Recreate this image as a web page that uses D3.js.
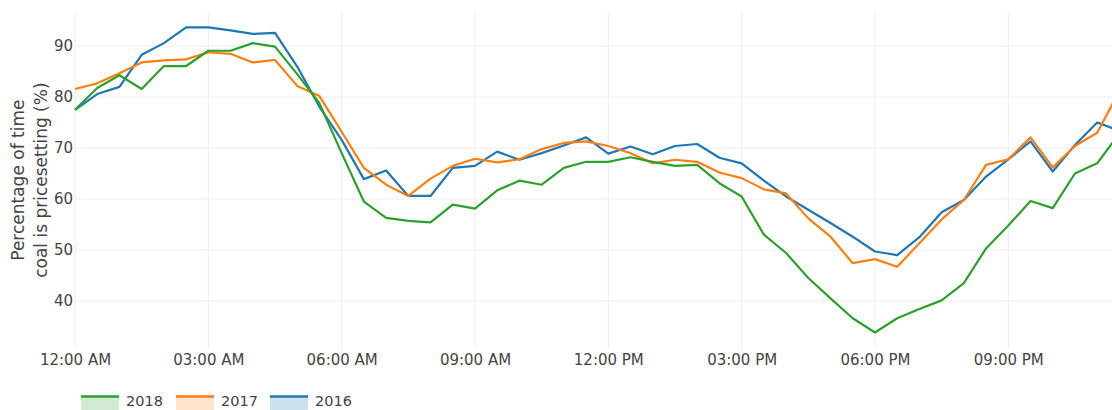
<!DOCTYPE html>
<html>
<head>
<meta charset="utf-8">
<script src="https://cdn.jsdelivr.net/npm/d3@7"></script>
<style>
  body { margin: 0; background: #fff; overflow: hidden; }
  text { font-family: "DejaVu Sans", Verdana, sans-serif; fill: #444; }
</style>
</head>
<body>
<script>
// half-hourly values, 00:00 .. 23:30
const pct2018 = [77.5, 81.8, 84.3, 81.6, 86.1, 86.1, 89.1, 89.1, 90.6, 89.9, 84.5, 78.8,
  69.0, 59.5, 56.3, 55.7, 55.4, 58.9, 58.1, 61.7, 63.6, 62.8, 66.1, 67.3,
  67.3, 68.2, 67.3, 66.5, 66.7, 63.1, 60.5, 53.0, 49.4, 44.5, 40.5, 36.6,
  33.8, 36.6, 38.4, 40.1, 43.5, 50.3, 54.8, 59.6, 58.2, 65.0, 67.0, 72.9];
const pct2017 = [81.6, 82.7, 84.7, 86.8, 87.2, 87.4, 88.8, 88.5, 86.8, 87.3, 82.2, 80.2,
  73.2, 66.1, 62.8, 60.6, 64.0, 66.5, 67.9, 67.2, 67.8, 69.8, 71.0, 71.3,
  70.4, 69.0, 67.0, 67.7, 67.3, 65.2, 64.1, 61.9, 61.1, 56.2, 52.6, 47.4,
  48.2, 46.7, 51.3, 56.0, 59.8, 66.7, 67.8, 72.1, 66.2, 70.4, 73.0, 81.2];
const pct2016 = [77.5, 80.6, 82.0, 88.3, 90.6, 93.7, 93.7, 93.1, 92.4, 92.6, 86.0, 78.1,
  71.6, 63.9, 65.6, 60.6, 60.6, 66.1, 66.5, 69.3, 67.7, 69.0, 70.5, 72.1,
  68.9, 70.3, 68.8, 70.4, 70.8, 68.1, 67.0, 63.6, 60.5, 57.9, 55.3, 52.6,
  49.7, 49.0, 52.5, 57.4, 59.8, 64.4, 67.8, 71.3, 65.4, 70.6, 75.0, 73.4];

const years = ["2018", "2017", "2016"];
const colors = { "2018": "#2ca02c", "2017": "#ff7f0e", "2016": "#1f77b4" };
const yTicks = [40, 50, 60, 70, 80, 90];

(function () {
    const day = new Date(2018, 0, 1);
    const times = d3.timeMinutes(day, d3.timeMinute.offset(day, 24 * 60), 30);
    const seriesData = { "2018": pct2018, "2017": pct2017, "2016": pct2016 };

    const W = 1112, H = 410;
    const plotLeft = 75, plotRight = 1119.4, plotTop = 11, plotBottom = 349.3;

    const svg = d3.select("body").append("svg")
        .attr("width", W)
        .attr("height", H);

    const x = d3.scaleTime()
        .domain([times[0], times[times.length - 1]])
        .range([plotLeft, plotRight]);

    const y = d3.scaleLinear()
        .domain([30.5, 96.9])
        .range([plotBottom, plotTop]);

    // grid
    const xTickVals = d3.timeHours(day, d3.timeHour.offset(day, 24), 3);
    svg.append("g")
        .selectAll("line")
        .data(xTickVals)
        .join("line")
        .attr("x1", d => x(d)).attr("x2", d => x(d))
        .attr("y1", plotTop).attr("y2", plotBottom)
        .attr("stroke", "#eee").attr("stroke-width", 1);

    svg.append("g")
        .selectAll("line")
        .data(yTicks)
        .join("line")
        .attr("x1", plotLeft).attr("x2", plotRight)
        .attr("y1", d => y(d)).attr("y2", d => y(d))
        .attr("stroke", "#eee").attr("stroke-width", 1);

    // axes (labels only)
    const xAxis = svg.append("g")
        .attr("transform", `translate(0,${plotBottom})`)
        .call(d3.axisBottom(x).tickValues(xTickVals).tickFormat(d3.timeFormat("%I:%M %p")).tickSize(0).tickPadding(5));
    xAxis.select(".domain").remove();
    xAxis.selectAll("text").attr("font-size", 15);
    xAxis.attr("font-family", null);

    const yAxis = svg.append("g")
        .attr("transform", `translate(${plotLeft},0)`)
        .call(d3.axisLeft(y).tickValues(yTicks).tickSize(0).tickPadding(2));
    yAxis.select(".domain").remove();
    yAxis.selectAll("text").attr("font-size", 15);
    yAxis.attr("font-family", null);

    // y title
    const yTitle = svg.append("text")
        .attr("transform", `translate(0,${(plotTop + plotBottom) / 2}) rotate(-90)`)
        .attr("text-anchor", "middle")
        .attr("font-size", 17);
    yTitle.append("tspan").attr("x", 0).attr("y", 24).text("Percentage of time");
    yTitle.append("tspan").attr("x", 0).attr("y", 47).text("coal is pricesetting (%)");

    // lines
    const line = d3.line()
        .x((d, i) => x(times[i]))
        .y(d => y(d));

    svg.append("clipPath").attr("id", "plot-clip")
        .append("rect").attr("x", plotLeft - 5).attr("y", 0)
        .attr("width", plotRight - plotLeft + 10).attr("height", plotBottom);

    const lineGroup = svg.append("g").attr("clip-path", "url(#plot-clip)");
    ["2016", "2017", "2018"].forEach(yr => {
        lineGroup.append("path")
            .datum(seriesData[yr])
            .attr("fill", "none")
            .attr("stroke", colors[yr])
            .attr("stroke-width", 2.2)
            .attr("stroke-linejoin", "round")
            .attr("d", line);
    });

    // legend
    const legend = svg.append("g");
    const legendX = [81, 176, 270];
    years.forEach((yr, i) => {
        const g = legend.append("g").attr("transform", `translate(${legendX[i]},396)`);
        g.append("rect")
            .attr("x", 0).attr("y", 0)
            .attr("width", 38).attr("height", 14)
            .attr("fill", colors[yr]).attr("fill-opacity", 0.22);
        g.append("line")
            .attr("x1", 0).attr("x2", 38)
            .attr("y1", 0.5).attr("y2", 0.5)
            .attr("stroke", colors[yr]).attr("stroke-width", 2.5);
        g.append("text")
            .attr("x", 45).attr("y", 10)
            .attr("font-size", 14.5)
            .text(yr);
    });
})();
</script>
</body>
</html>
